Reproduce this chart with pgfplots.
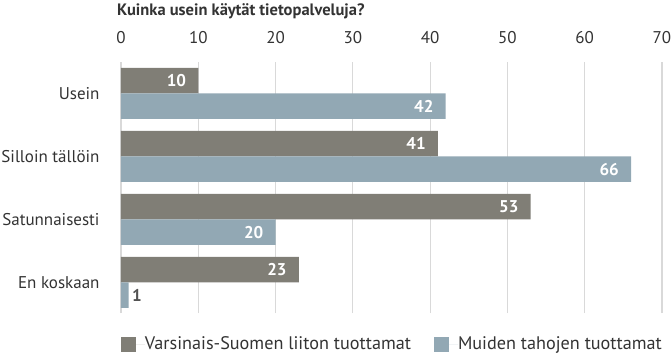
\documentclass[border=0pt]{standalone}
\usepackage{pgfplots}
\pgfplotsset{compat=1.18}
\usepackage{fontspec}
\setmainfont{PT Sans}
\definecolor{cgray}{RGB}{128,126,118}
\definecolor{cblue}{RGB}{146,168,180}
\definecolor{ctext}{RGB}{51,51,51}
\definecolor{cgrid}{RGB}{217,217,217}
\newcommand{\fs}{\fontsize{17bp}{20bp}\selectfont}
\newcommand{\fl}{\fontsize{18.2bp}{21bp}\selectfont}
\newcommand{\ft}{\fontsize{16.5bp}{20bp}\selectfont}
\begin{document}
\begin{tikzpicture}
\begin{axis}[
  scale only axis, width=541bp, height=251bp,
  xmin=0, xmax=70, ymin=-0.487, ymax=3.497,
  xbar, bar width=25.5bp,
  legend image code/.code={\fill[#1,draw=none] (0bp,-7.5bp) rectangle (15bp,7.5bp);\path (0bp,0bp) -- (24bp,0bp);},
  xtick={0,10,...,70}, xticklabel pos=upper,
  ytick={0,1,2,3}, yticklabels={En koskaan, Satunnaisesti, Silloin tällöin, Usein},
  axis line style={draw=none}, major tick style={draw=none},
  xmajorgrids, grid style={cgrid, line width=1.2bp},
  tick label style={font=\fs, text=ctext},
  /pgf/number format/assume math mode=true,
  xticklabel style={anchor=base, inner sep=0, yshift=18bp},
  yticklabel style={anchor=east, inner sep=0, xshift=-17bp},
  visualization depends on={rawx \as \rawx},
  nodes near coords,
  every node near coord/.append style={anchor=east, inner sep=0, xshift=-12bp, font=\fs\bfseries, text=white},
  legend style={draw=none, fill=none, at={(rel axis cs:0,0)}, anchor=west, yshift=-31bp,
    legend columns=2, inner sep=0, outer sep=0, font=\fl, text=ctext,
    nodes={inner sep=0},
    /tikz/every even column/.append style={column sep=23bp}},
  legend cell align=left,
]
\addplot[fill=cgray, draw=none, bar shift=12.75bp] coordinates {(10,3) (41,2) (53,1) (23,0)};
\addlegendentry{Varsinais-Suomen liiton tuottamat}
\addplot[fill=cblue, draw=none, bar shift=-12.75bp,
  nodes near coords={\ifdim\rawx pt<5pt\rlap{\hspace{16bp}\textcolor{ctext!85}{\pgfmathprintnumber{\pgfplotspointmeta}}}\else\pgfmathprintnumber{\pgfplotspointmeta}\fi}]
  coordinates {(42,3) (66,2) (20,1) (1,0)};
\addlegendentry{Muiden tahojen tuottamat}
\coordinate (TL) at (rel axis cs:0,1);
\end{axis}
\node[anchor=base west, inner sep=0, font=\ft\bfseries, text=ctext] at ([shift={(-4bp,46.5bp)}]TL) {Kuinka usein käytät tietopalveluja?};
\pgfresetboundingbox
\path ([shift={(-121bp,62bp)}]TL) rectangle ([shift={(551bp,-292bp)}]TL);
\end{tikzpicture}
\end{document}
